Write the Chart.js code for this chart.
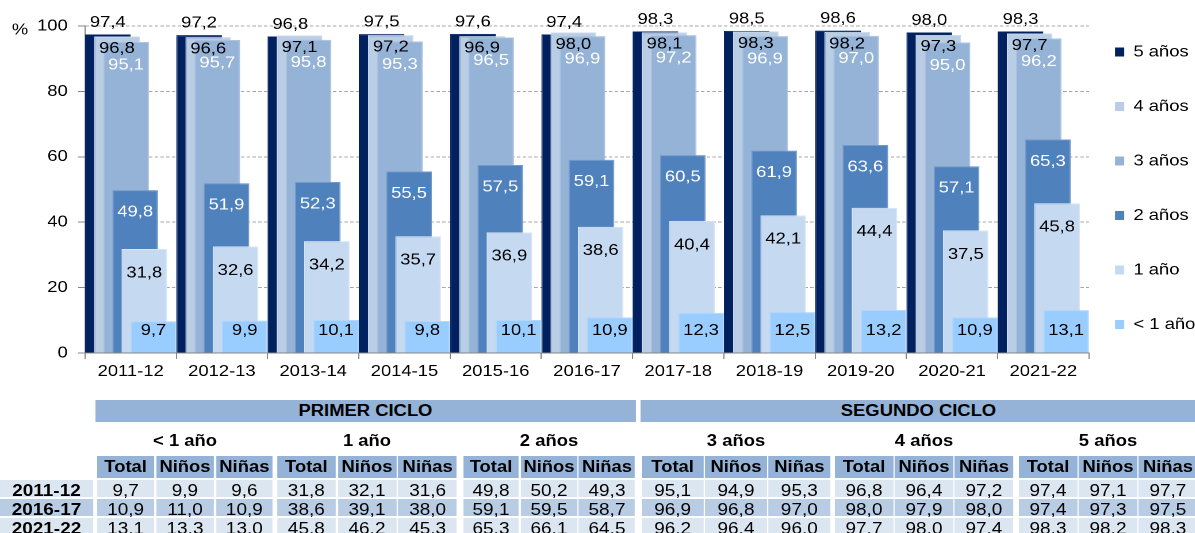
<!DOCTYPE html>
<html>
<head>
<meta charset="utf-8">
<script src="https://cdn.jsdelivr.net/npm/chart.js"></script>
<style>
html,body{margin:0;padding:0;background:#fff;overflow:hidden;width:1195px;height:533px;}
#page{position:absolute;left:0;top:0;width:1039.13px;height:533px;transform:scaleX(1.15);transform-origin:0 0;font-family:'Liberation Sans',Arial,sans-serif;color:#000;}
#chartBox{position:absolute;left:0;top:0;width:1039.13px;height:398px;}
.c{position:absolute;display:flex;align-items:center;justify-content:center;white-space:nowrap;box-sizing:border-box;}
.b{font-weight:bold;font-size:16px;}
.d{font-size:16.5px;padding-top:3px;}
.rl{font-weight:bold;font-size:16.5px;padding-top:3px;}
</style>
</head>
<body>
<div id="page">
  <div id="chartBox"><canvas id="chart"></canvas></div>
  <div id="table"></div>
</div>
<script>
// ---------- chart data ----------
const years = ['2011-12','2012-13','2013-14','2014-15','2015-16','2016-17','2017-18','2018-19','2019-20','2020-21','2021-22'];
const seriesNames = ['< 1 año','1 año','2 años','3 años','4 años','5 años'];
const under1 = [9.7, 9.9, 10.1, 9.8, 10.1, 10.9, 12.3, 12.5, 13.2, 10.9, 13.1];
const age1   = [31.8, 32.6, 34.2, 35.7, 36.9, 38.6, 40.4, 42.1, 44.4, 37.5, 45.8];
const age2   = [49.8, 51.9, 52.3, 55.5, 57.5, 59.1, 60.5, 61.9, 63.6, 57.1, 65.3];
const age3   = [95.1, 95.7, 95.8, 95.3, 96.5, 96.9, 97.2, 96.9, 97.0, 95.0, 96.2];
const age4   = [96.8, 96.6, 97.1, 97.2, 96.9, 98.0, 98.1, 98.3, 98.2, 97.3, 97.7];
const age5   = [97.4, 97.2, 96.8, 97.5, 97.6, 97.4, 98.3, 98.5, 98.6, 98.0, 98.3];
const yTicks = [0, 20, 40, 60, 80, 100];

// ---------- table data ----------
const cycles = ['PRIMER CICLO', 'SEGUNDO CICLO'];
const subCols = ['Total', 'Niños', 'Niñas'];
const tableYears = ['2011-12', '2016-17', '2021-22'];
const tUnder1 = [[9.7, 9.9, 9.6], [10.9, 11.0, 10.9], [13.1, 13.3, 13.0]];
const tAge1   = [[31.8, 32.1, 31.6], [38.6, 39.1, 38.0], [45.8, 46.2, 45.3]];
const tAge2   = [[49.8, 50.2, 49.3], [59.1, 59.5, 58.7], [65.3, 66.1, 64.5]];
const tAge3   = [[95.1, 94.9, 95.3], [96.9, 96.8, 97.0], [96.2, 96.4, 96.0]];
const tAge4   = [[96.8, 96.4, 97.2], [98.0, 97.9, 98.0], [97.7, 98.0, 97.4]];
const tAge5   = [[97.4, 97.1, 97.7], [97.4, 97.3, 97.5], [98.3, 98.2, 98.3]];

const S = 1.15; // horizontal stretch of the whole page
const fmt = v => v.toFixed(1).replace('.', ',');
const FONT = "'Liberation Sans', Arial, sans-serif";

const colors = ['#99CCFF', '#C5D9F1', '#4F81BD', '#95B3D7', '#B9CDE5', '#002060'];
const edgeColors = ['#B0D8FF', '#D9E5F5', '#7399CB', '#AAC2DF', '#CCDAEC', '#002060'];
const seriesData = [under1, age1, age2, age3, age4, age5];
// label style per dataset: colour, reference (top of bar or base) and vertical offset
const LABEL_STYLE = [
  {color: '#000', fromBase: true,  dy: -22},
  {color: '#000', fromBase: false, dy: 24},
  {color: '#fff', fromBase: false, dy: 22},
  {color: '#fff', fromBase: false, dy: 23},
  {color: '#000', fromBase: false, dy: 12},
  {color: '#000', fromBase: false, dy: -12}
];

const valueLabels = {
  id: 'valueLabels',
  afterDatasetsDraw(chart) {
    const ctx = chart.ctx;
    ctx.save();
    ctx.font = '16px ' + FONT;
    ctx.textAlign = 'center';
    ctx.textBaseline = 'middle';
    for (let di = chart.data.datasets.length - 1; di >= 0; di--) {
      const ds = chart.data.datasets[di];
      const meta = chart.getDatasetMeta(di);
      const st = LABEL_STYLE[di];
      ctx.fillStyle = st.color;
      meta.data.forEach((bar, i) => {
        const p = bar.getProps(['x', 'y', 'base'], true);
        const y = st.fromBase ? p.base + st.dy : p.y + st.dy;
        ctx.fillText(fmt(ds.data[i]), p.x, y);
      });
    }
    ctx.restore();
  },
  afterDraw(chart) {
    const ctx = chart.ctx;
    ctx.save();
    ctx.font = '16px ' + FONT;
    ctx.fillStyle = '#000';
    ctx.textAlign = 'center';
    ctx.textBaseline = 'middle';
    ctx.fillText('%', 20 / S, 30);
    ctx.restore();
  }
};

// place the legend like the original
const legendPlace = {
  id: 'legendPlace',
  afterLayout(chart) {
    const lg = chart.legend;
    if (!lg) return;
    const pad = lg.options.labels.padding;
    lg.top = 44 - pad;
    lg.bottom = chart.height;
    lg.left = 1115 / S - pad;
    lg.right = chart.width;
    lg.width = lg.right - lg.left;
    lg.height = lg.bottom - lg.top;
  }
};

const datasets = seriesNames.map((name, i) => ({
  label: name,
  data: seriesData[i],
  backgroundColor: colors[i],
  borderColor: edgeColors[i],
  borderWidth: 1,
  categoryPercentage: -0.6,
  barPercentage: -5
}));

new Chart(document.getElementById('chart'), {
  type: 'bar',
  data: {labels: years, datasets},
  options: {
    responsive: true,
    maintainAspectRatio: false,
    animation: false,
    devicePixelRatio: 2,
    events: [],
    layout: {padding: {top: 26, left: 0, right: 0, bottom: 0}},
    plugins: {
      tooltip: {enabled: false},
      legend: {
        position: 'right',
        align: 'start',
        reverse: true,
        maxWidth: 1039.13 - 1089 / S,
        labels: {
          boxWidth: 8,
          boxHeight: 9,
          padding: 38.5,
          color: '#000',
          font: {size: 16, family: FONT},
          generateLabels(chart) {
            return chart.data.datasets.map((ds, i) => ({
              text: ds.label, fillStyle: colors[i], strokeStyle: colors[i],
              lineWidth: 0, hidden: false, datasetIndex: i, fontColor: '#000'
            }));
          }
        }
      }
    },
    scales: {
      x: {
        afterFit(s) { s.height = 398 - 353; },
        grid: {drawOnChartArea: false, drawTicks: true, tickLength: 6, color: '#868686', offset: true},
        border: {display: true, color: '#868686', width: 1},
        ticks: {color: '#000', font: {size: 16, family: FONT}, padding: 3, maxRotation: 0, autoSkip: false}
      },
      y: {
        min: 0,
        max: 100,
        afterFit(s) { s.width = 85 / S; },
        afterBuildTicks(s) { s.ticks = yTicks.map(v => ({value: v})); },
        grid: {
          color: c => (c.tick && c.tick.value === 0) ? 'rgba(0,0,0,0)' : '#A6A6A6',
          lineWidth: 1,
          tickLength: 6,
          tickColor: '#868686',
          tickBorderDash: []
        },
        border: {display: true, color: '#868686', width: 1, dash: [3, 2]},
        ticks: {color: '#000', font: {size: 16, family: FONT}, padding: 9}
      }
    }
  },
  plugins: [valueLabels, legendPlace]
});

// ---------- table ----------
const tbl = document.getElementById('table');
function cell(x1, x2, y1, y2, bg, txt, cls) {
  const d = document.createElement('div');
  d.className = 'c ' + cls;
  d.style.left = (x1 / S) + 'px';
  d.style.width = ((x2 - x1) / S) + 'px';
  d.style.top = y1 + 'px';
  d.style.height = (y2 - y1) + 'px';
  if (bg) d.style.background = bg;
  d.textContent = txt;
  tbl.appendChild(d);
}
const HEAD = '#95B3D7';
const cycleSpan = [[95, 636], [640, 1197]];
const groupSpan = [[97, 273], [277, 457], [463, 635], [642, 830], [835, 1013], [1019, 1197]];
const rowY = [[480, 497], [499, 516], [518, 535]];
const rowBg = ['#DCE6F1', '#B8CCE4', '#DCE6F1'];
const tableData = [tUnder1, tAge1, tAge2, tAge3, tAge4, tAge5];

cycles.forEach((c, i) => cell(cycleSpan[i][0], cycleSpan[i][1], 400, 422, HEAD, c, 'b'));
tableYears.forEach((y, r) => cell(0, 93, rowY[r][0], rowY[r][1], rowBg[r], y, 'rl'));
seriesNames.forEach((g, gi) => {
  const [x1, x2] = groupSpan[gi];
  cell(x1, x2, 430, 452, null, g, 'b');
  const w = (x2 - x1 - 4) / 3;
  subCols.forEach((sc, k) => {
    const cx = x1 + k * (w + 2);
    cell(cx, cx + w, 456, 478, HEAD, sc, 'b');
    tableYears.forEach((y, r) => {
      cell(cx, cx + w, rowY[r][0], rowY[r][1], rowBg[r], fmt(tableData[gi][r][k]), 'd');
    });
  });
});
</script>
</body>
</html>
